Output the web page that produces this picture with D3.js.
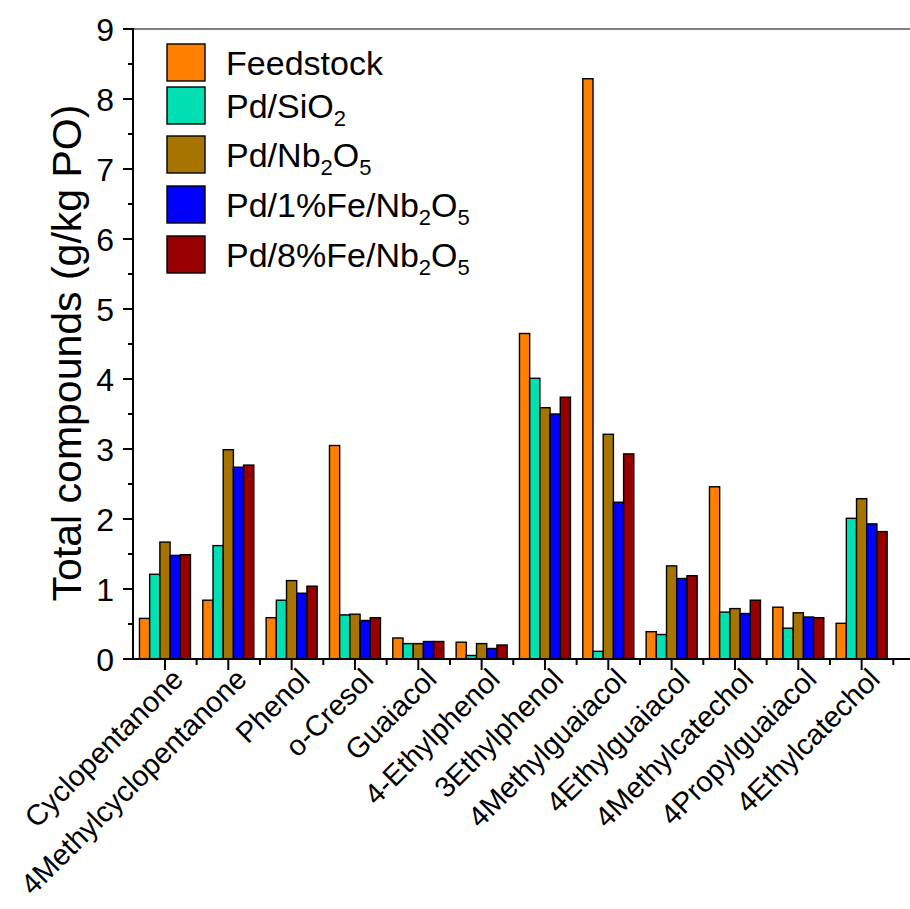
<!DOCTYPE html>
<html>
<head>
<meta charset="utf-8">
<script src="https://cdn.jsdelivr.net/npm/d3@7"></script>
<style>
  html, body { margin: 0; padding: 0; background: #fff; }
  svg { display: block; font-family: Arial, "Liberation Sans", Helvetica, sans-serif; }
</style>
</head>
<body>
<svg id="chart" width="910" height="909"></svg>
<script>
// ---------- DATA ----------
const categories = ["Cyclopentanone", "4Methylcyclopentanone", "Phenol", "o-Cresol", "Guaiacol",
  "4-Ethylphenol", "3Ethylphenol", "4Methylguaiacol", "4Ethylguaiacol", "4Methylcatechol",
  "4Propylguaiacol", "4Ethylcatechol"];
const seriesNames = ["Feedstock", "Pd/SiO2", "Pd/Nb2O5", "Pd/1%Fe/Nb2O5", "Pd/8%Fe/Nb2O5"];
const feedstock = [0.58, 0.84, 0.59, 3.05, 0.30, 0.24, 4.65, 8.29, 0.39, 2.46, 0.74, 0.51];
const pdSiO2    = [1.21, 1.62, 0.84, 0.63, 0.22, 0.05, 4.01, 0.11, 0.35, 0.67, 0.44, 2.01];
const pdNb2O5   = [1.67, 2.99, 1.12, 0.64, 0.22, 0.22, 3.59, 3.21, 1.33, 0.72, 0.66, 2.29];
const pd1FeNb   = [1.48, 2.74, 0.94, 0.55, 0.25, 0.15, 3.50, 2.24, 1.15, 0.65, 0.60, 1.93];
const pd8FeNb   = [1.49, 2.77, 1.04, 0.59, 0.25, 0.20, 3.74, 2.93, 1.19, 0.84, 0.59, 1.82];
const yTicks = [0, 1, 2, 3, 4, 5, 6, 7, 8, 9];
const yLabel = "Total compounds (g/kg PO)";

const seriesValues = [feedstock, pdSiO2, pdNb2O5, pd1FeNb, pd8FeNb];
const colors = ["#FF8000", "#00E0B2", "#A87400", "#0000FF", "#960000"];

// ---------- LAYOUT ----------
const svg = d3.select("#chart");
const mLeft = 133, mRight = 910, mTop = 29, mBottom = 659;
const bandLeft = 133.3, bandRight = 893.3;

const x = d3.scaleBand().domain(categories).range([bandLeft, bandRight]).padding(0);
const groupW = 51;
const xs = d3.scaleBand().domain(d3.range(seriesNames.length)).range([-groupW / 2, groupW / 2]).padding(0);
const y = d3.scaleLinear().domain([0, 9]).range([mBottom, mTop]);

// bars
const groups = svg.append("g").selectAll("g").data(categories).join("g")
  .attr("transform", d => `translate(${x(d) + x.bandwidth() / 2},0)`);
groups.each(function (cat, ci) {
  d3.select(this).selectAll("rect").data(seriesValues.map((s, si) => ({ si, v: s[ci] }))).join("rect")
    .attr("x", d => xs(d.si))
    .attr("width", xs.bandwidth())
    .attr("y", d => y(d.v))
    .attr("height", d => y(0) - y(d.v))
    .attr("fill", d => colors[d.si])
    .attr("stroke", "#000")
    .attr("stroke-width", 1.4);
});

// frame top line
svg.append("line").attr("x1", mLeft).attr("x2", mRight).attr("y1", mTop).attr("y2", mTop)
  .attr("stroke", "#000").attr("stroke-width", 1);

// y axis
const yAxis = svg.append("g");
yAxis.append("line").attr("x1", mLeft).attr("x2", mLeft).attr("y1", mTop - 1).attr("y2", mBottom + 1)
  .attr("stroke", "#000").attr("stroke-width", 2);
yAxis.selectAll(".ymaj").data(yTicks).join("line").attr("class", "ymaj")
  .attr("x1", mLeft - 10).attr("x2", mLeft).attr("y1", d => y(d)).attr("y2", d => y(d))
  .attr("stroke", "#000").attr("stroke-width", 2);
yAxis.selectAll(".ymin").data(yTicks.slice(0, -1).map(d => d + 0.5)).join("line").attr("class", "ymin")
  .attr("x1", mLeft - 5).attr("x2", mLeft).attr("y1", d => y(d)).attr("y2", d => y(d))
  .attr("stroke", "#000").attr("stroke-width", 2);
yAxis.selectAll("text").data(yTicks).join("text")
  .attr("x", 114).attr("y", d => y(d)).attr("dy", "0.36em")
  .attr("text-anchor", "end").attr("font-size", 32).attr("fill", "#000")
  .text(d => d);

svg.append("text")
  .attr("transform", `translate(81,353) rotate(-90)`)
  .attr("text-anchor", "middle").attr("font-size", 41).attr("fill", "#000")
  .text(yLabel);

// x axis
const xAxis = svg.append("g");
xAxis.append("line").attr("x1", mLeft - 1).attr("x2", mRight).attr("y1", mBottom).attr("y2", mBottom)
  .attr("stroke", "#000").attr("stroke-width", 2);
xAxis.selectAll(".xmaj").data(categories).join("line").attr("class", "xmaj")
  .attr("x1", d => x(d) + x.bandwidth() / 2).attr("x2", d => x(d) + x.bandwidth() / 2)
  .attr("y1", mBottom).attr("y2", mBottom + 11)
  .attr("stroke", "#000").attr("stroke-width", 2);
xAxis.selectAll(".xmin").data(categories).join("line").attr("class", "xmin")
  .attr("x1", d => x(d) + x.bandwidth()).attr("x2", d => x(d) + x.bandwidth())
  .attr("y1", mBottom).attr("y2", mBottom + 6)
  .attr("stroke", "#000").attr("stroke-width", 2);
xAxis.selectAll("text").data(categories).join("text")
  .attr("transform", d => `translate(${x(d) + x.bandwidth() / 2 + 20},681) rotate(-45)`)
  .attr("text-anchor", "end").attr("font-size", 29).attr("fill", "#000")
  .text(d => d);

// legend
const legendY = [44, 87, 136, 186, 236];
const legend = svg.append("g");
function addLabel(sel, name) {
  // digits directly after a letter are chemical subscripts
  name.split("").forEach((ch, i) => {
    const isSub = /\d/.test(ch) && i > 0 && /[A-Za-z]/.test(name[i - 1]);
    const prevSub = i > 1 && /\d/.test(name[i - 1]) && /[A-Za-z]/.test(name[i - 2]);
    const t = sel.append("tspan").text(ch);
    if (isSub) t.attr("font-size", 22).attr("dy", 8);
    else if (prevSub) t.attr("dy", -8);
  });
}
seriesNames.forEach((name, i) => {
  legend.append("rect").attr("x", 167).attr("y", legendY[i]).attr("width", 38).attr("height", 37)
    .attr("fill", colors[i]).attr("stroke", "#000").attr("stroke-width", 1.4);
  const t = legend.append("text").attr("x", 226).attr("y", legendY[i] + 31)
    .attr("font-size", 34).attr("fill", "#000");
  addLabel(t, name);
});
</script>
</body>
</html>
